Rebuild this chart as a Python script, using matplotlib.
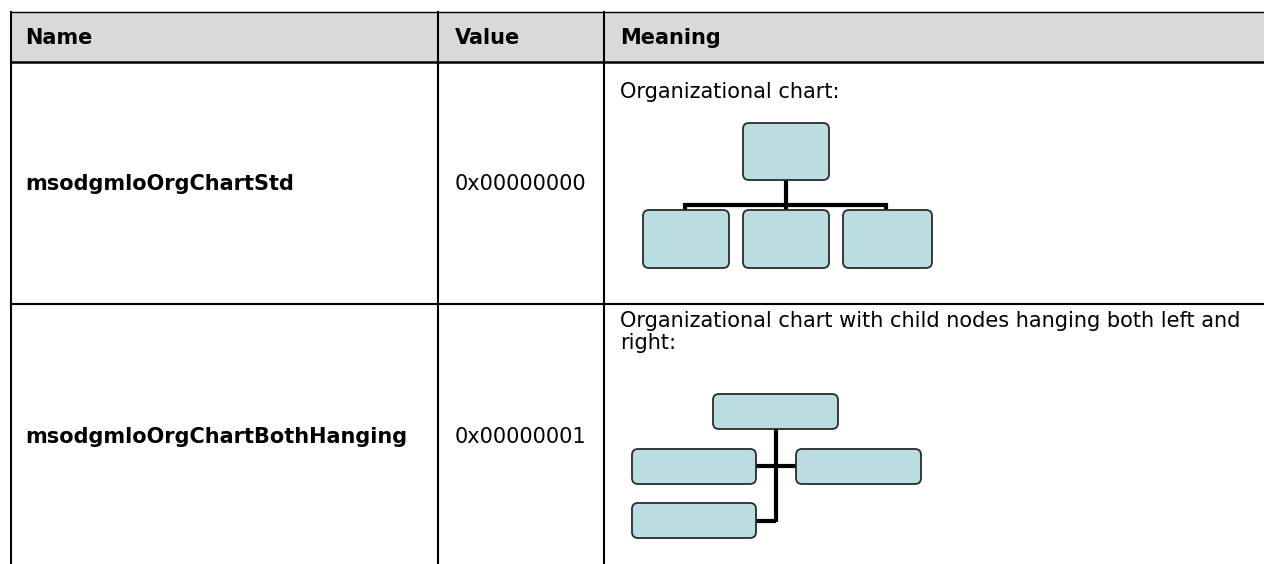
import matplotlib
matplotlib.use("Agg")
import matplotlib.pyplot as plt
from matplotlib.patches import FancyBboxPatch, Rectangle

# ---- table content ----
headers = ["Name", "Value", "Meaning"]
names = ["msodgmloOrgChartStd", "msodgmloOrgChartBothHanging"]
values = ["0x00000000", "0x00000001"]
meanings = ["Organizational chart:",
            "Organizational chart with child nodes hanging both left and\nright:"]

# ---- diagram data (boxes: x0, y0, x1, y1 in pixel units) ----
chart1_boxes = [(743, 123, 829, 180), (643, 210, 729, 268), (743, 210, 829, 268), (843, 210, 932, 268)]
chart1_lines = [[(786, 180), (786, 205)], [(683, 205), (888, 205)],
                [(685, 203), (685, 212)], [(786, 203), (786, 212)], [(886, 203), (886, 212)]]
chart2_boxes = [(713, 394, 838, 429), (632, 449, 756, 484), (796, 449, 921, 484), (632, 503, 756, 538)]
chart2_lines = [[(776, 429), (776, 522)], [(756, 466), (796, 466)], [(756, 521), (776, 521)]]

W, H = 1264, 564
fig = plt.figure(figsize=(W / 100, H / 100), dpi=100)
ax = fig.add_axes([0, 0, 1, 1])
ax.set_xlim(0, W)
ax.set_ylim(H, 0)
ax.axis("off")

# layout
left, right = 11, W + 2
top, header_bottom, row1_bottom, bottom = 11.5, 62, 304, H + 2
col_x = [left, 438, 604]
text_x = [25, 455, 620]
row_text_y = [184, 437]

# header background
ax.add_patch(Rectangle((left, top), right - left, header_bottom - top, facecolor="#d9d9d9", edgecolor="none"))

# grid lines
ax.plot([left, right], [top, top], color="black", lw=1.0)
ax.plot([left, right], [header_bottom, header_bottom], color="black", lw=1.8)
ax.plot([left, right], [row1_bottom, row1_bottom], color="black", lw=1.5)
for x in col_x:
    ax.plot([x, x], [top, bottom], color="black", lw=1.5)

fs = 15
for x, h in zip(text_x, headers):
    ax.text(x, 38, h, fontsize=fs, fontweight="bold", va="center", ha="left")

for i in range(2):
    ax.text(text_x[0], row_text_y[i], names[i], fontsize=fs, fontweight="bold", va="center", ha="left")
    ax.text(text_x[1], row_text_y[i], values[i], fontsize=fs, va="center", ha="left")

ax.text(text_x[2], 92, meanings[0], fontsize=fs, va="center", ha="left")
ax.text(text_x[2], 311, meanings[1], fontsize=fs, va="top", ha="left", linespacing=1.12)

box_fill = "#b9dde1"
box_edge = "#2a2a2a"

def draw_chart(boxes, lines):
    for seg in lines:
        xs, ys = zip(*seg)
        ax.plot(xs, ys, color="black", lw=3.0, solid_capstyle="butt", zorder=2)
    for (x0, y0, x1, y1) in boxes:
        p = FancyBboxPatch((x0 + 6, y0 + 6), (x1 - x0) - 12, (y1 - y0) - 12,
                           boxstyle="round,pad=6", facecolor=box_fill, edgecolor=box_edge,
                           lw=1.3, zorder=3)
        ax.add_patch(p)

draw_chart(chart1_boxes, chart1_lines)
draw_chart(chart2_boxes, chart2_lines)

fig.savefig("out.png", dpi=100)
